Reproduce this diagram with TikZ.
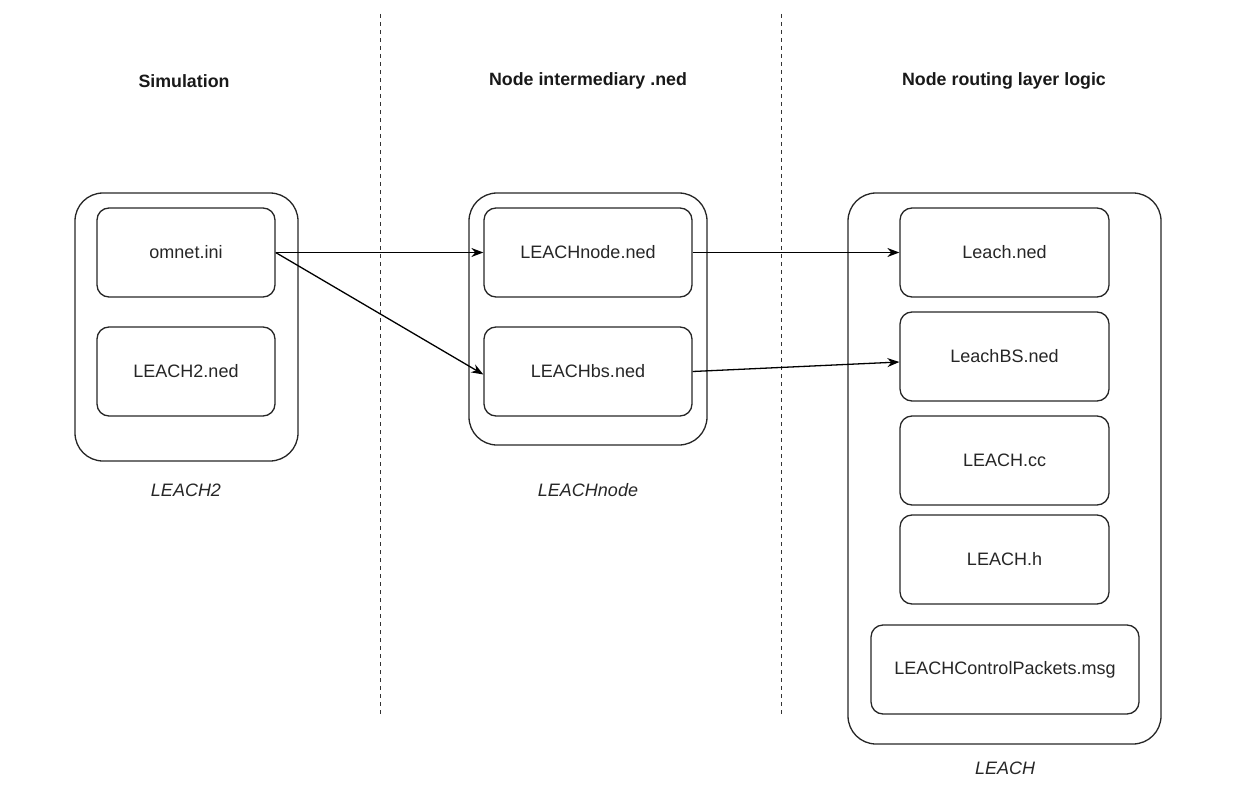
\documentclass[tikz,border=0pt]{standalone}
\usepackage{fontspec}
\setmainfont{Liberation Sans}
\usetikzlibrary{arrows.meta}
\begin{document}
\begin{tikzpicture}[x=1pt,y=-1pt,
  outerbox/.style={draw=black!85,line width=1.3pt,rounded corners=28pt,rectangle,inner sep=0pt},
  filebox/.style={draw=black!85,line width=1.3pt,rounded corners=12pt,rectangle,inner sep=0pt,
    minimum height=89pt,font=\fontsize{18}{21}\selectfont,text=black!85},
  header/.style={font=\fontsize{17.8}{21}\selectfont\bfseries,text=black!90},
  caption/.style={font=\fontsize{18}{21}\selectfont\itshape,text=black!85},
  sep/.style={draw=black!80,line width=0.9pt,dash pattern=on 4pt off 4pt},
  link/.style={draw=black,line width=1.3pt,-{Stealth[length=12pt,width=9pt]}}]
\useasboundingbox (0,0) rectangle (1260,802);
% separators
\coordinate (s1t) at (380,14); \coordinate (s1b) at (380,714);
\coordinate (s2t) at (781,14); \coordinate (s2b) at (781,714);
\draw[sep] (s1t) -- (s1b);
\draw[sep] (s2t) -- (s2b);
% headers
\node[header] (h1) at (184,81) {Simulation};
\node[header] (h2) at (588,81) {Node intermediary .ned};
\node[header] (h3) at (1004,81) {Node routing layer logic};
% containers
\node[outerbox,minimum width=223pt,minimum height=268pt] (o1) at (186.5,327) {};
\node[outerbox,minimum width=238pt,minimum height=252pt] (o2) at (588,319) {};
\node[outerbox,minimum width=313pt,minimum height=551pt] (o3) at (1004.5,468.5) {};
% files
\node[filebox,minimum width=178pt] (omnet) at (186,252.5) {omnet.ini};
\node[filebox,minimum width=178pt] (l2ned) at (186,371.5) {LEACH2.ned};
\node[filebox,minimum width=208pt] (lnode) at (588,252.5) {LEACHnode.ned};
\node[filebox,minimum width=208pt] (lbs) at (588,371.5) {LEACHbs.ned};
\node[filebox,minimum width=209pt] (leachned) at (1004.5,252.5) {Leach.ned};
\node[filebox,minimum width=209pt] (leachbs) at (1004.5,356.5) {LeachBS.ned};
\node[filebox,minimum width=209pt] (leachcc) at (1004.5,460.5) {LEACH.cc};
\node[filebox,minimum width=209pt] (leachh) at (1004.5,559.5) {LEACH.h};
\node[filebox,minimum width=268pt] (msg) at (1005,669.5) {LEACHControlPackets.msg};
% captions
\node[caption] (c1) at (186,490) {LEACH2};
\node[caption] (c2) at (588,490) {LEACHnode};
\node[caption] (c3) at (1005,768) {LEACH};
% connectors
\draw[link] (omnet.east) -- (lnode.west);
\draw[link] (omnet.east) -- ([yshift=-3pt]lbs.west);
\draw[link] (lnode.east) -- (leachned.west);
\draw[link] (lbs.east) -- ([yshift=-5.5pt]leachbs.west);
\end{tikzpicture}
\end{document}
